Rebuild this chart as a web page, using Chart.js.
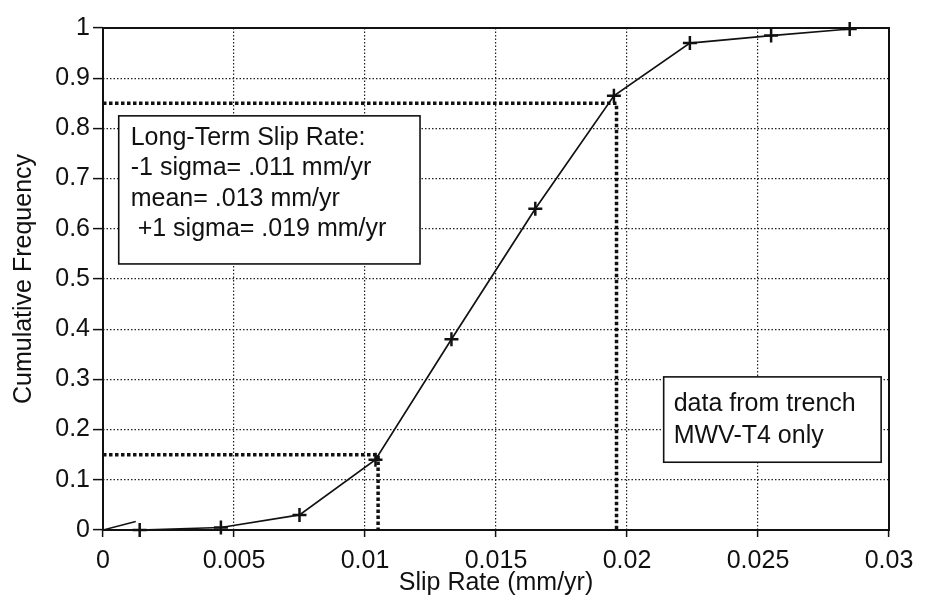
<!DOCTYPE html>
<html>
<head>
<meta charset="utf-8">
<script src="https://cdn.jsdelivr.net/npm/chart.js@4/dist/chart.umd.min.js"></script>
<style>
  html, body { margin: 0; padding: 0; background: #fff; }
  canvas { display: block; }
</style>
</head>
<body>
<canvas id="grafico" width="928" height="600"></canvas>
<script>
// pontos medidos (cruzes) da curva acumulada
const slipRate = [0.0014, 0.0045, 0.0075, 0.0104, 0.0133, 0.0165, 0.0195, 0.0224, 0.0255, 0.0285];
const cumFreq = [0.0, 0.005, 0.03, 0.14, 0.38, 0.64, 0.865, 0.97, 0.985, 0.998];

// a linha comeca um pouco antes da primeira cruz e termina no topo
const curvaInicio = { x: 0.0005, y: 0 };
const curvaFim = { x: 0.0289, y: 1 };

// risco curto saindo da origem
const risco = [{ x: 0, y: 0 }, { x: 0.00125, y: 0.017 }];

// linhas de -1 / +1 sigma
const sigmaBaixo = { freq: 0.15, rate: 0.0105 };
const sigmaAlto = { freq: 0.85, rate: 0.0196 };

const xTicks = [0, 0.005, 0.01, 0.015, 0.02, 0.025, 0.03];
const yTicks = [0, 0.1, 0.2, 0.3, 0.4, 0.5, 0.6, 0.7, 0.8, 0.9, 1];

const notaSlip = ["Long-Term Slip Rate:", "-1 sigma= .011 mm/yr", "mean= .013 mm/yr", " +1 sigma= .019 mm/yr"];
const notaTrench = ["data from trench", "MWV-T4 only"];

const fonte = '"Liberation Sans", Arial, Helvetica, sans-serif';
const preto = "#111";

Chart.defaults.font.family = fonte;
Chart.defaults.font.size = 25;
Chart.defaults.color = preto;

const pontos = slipRate.map((v, i) => ({ x: v, y: cumFreq[i] }));
const curva = [curvaInicio, ...pontos, curvaFim];

function linhaSigma(s) {
  return [{ x: 0, y: s.freq }, { x: s.rate, y: s.freq }, { x: s.rate, y: 0 }];
}

// moldura em volta da area do grafico
const moldura = {
  id: "moldura",
  beforeDatasetsDraw(chart) {
    const { ctx, chartArea: a } = chart;
    ctx.save();
    ctx.strokeStyle = preto;
    ctx.lineWidth = 2;
    ctx.strokeRect(a.left, a.top, a.right - a.left, a.bottom - a.top);
    ctx.restore();
  }
};

function caixa(chart, x0, y0, x1, y1, linhas, margem, topo, passo) {
  const { ctx, scales: { x, y } } = chart;
  const l = x.getPixelForValue(x0), r = x.getPixelForValue(x1);
  const t = y.getPixelForValue(y0), b = y.getPixelForValue(y1);
  ctx.save();
  ctx.fillStyle = "#fff";
  ctx.fillRect(l, t, r - l, b - t);
  ctx.strokeStyle = preto;
  ctx.lineWidth = 1.6;
  ctx.strokeRect(l, t, r - l, b - t);
  ctx.fillStyle = preto;
  ctx.font = "25px " + fonte;
  ctx.textBaseline = "middle";
  linhas.forEach((s, i) => ctx.fillText(s, l + margem, t + topo + i * passo));
  ctx.restore();
}

const notas = {
  id: "notas",
  afterDatasetsDraw(chart) {
    caixa(chart, 0.0006, 0.825, 0.0121, 0.53, notaSlip, 12, 22, 30.5);
    caixa(chart, 0.0214, 0.305, 0.0297, 0.135, notaTrench, 10, 27, 32);
  }
};

const graf = document.getElementById("grafico");

let conf = {
  type: "scatter",
  data: {
    datasets: [
      {
        label: "Cumulative Frequency",
        data: curva,
        showLine: true,
        borderColor: preto,
        borderWidth: 1.7,
        pointStyle: "cross",
        pointRadius: c => (c.dataIndex === 0 || c.dataIndex === curva.length - 1) ? 0 : 7,
        pointBorderColor: preto,
        pointBorderWidth: 2.5,
        clip: false
      },
      {
        data: risco,
        showLine: true,
        borderColor: preto,
        borderWidth: 1.5,
        pointRadius: 0
      },
      {
        data: linhaSigma(sigmaBaixo),
        showLine: true,
        borderColor: preto,
        borderWidth: 3.5,
        borderDash: [3.5, 2.5],
        pointRadius: 0
      },
      {
        data: linhaSigma(sigmaAlto),
        showLine: true,
        borderColor: preto,
        borderWidth: 3.5,
        borderDash: [3.5, 2.5],
        pointRadius: 0
      }
    ]
  },
  options: {
    responsive: false,
    animation: false,
    layout: { padding: { top: 28, right: 39, bottom: 0, left: 0 } },
    plugins: {
      legend: { display: false },
      tooltip: { enabled: false }
    },
    scales: {
      x: {
        type: "linear",
        min: 0,
        max: 0.03,
        afterBuildTicks: s => { s.ticks = xTicks.map(v => ({ value: v })); },
        afterFit: s => { s.height = 70; },
        ticks: { callback: v => String(v), padding: 9, maxRotation: 0, autoSkip: false },
        grid: { color: "#222", lineWidth: 1.2, tickLength: 7, tickColor: preto, tickWidth: 1.5 },
        border: { display: false, dash: [1.5, 2] },
        title: { display: true, text: "Slip Rate (mm/yr)", padding: { top: 0, bottom: 2 } }
      },
      y: {
        type: "linear",
        min: 0,
        max: 1,
        afterBuildTicks: s => { s.ticks = yTicks.map(v => ({ value: v })); },
        afterFit: s => { s.width = 103; },
        ticks: { callback: v => String(v), padding: 3, autoSkip: false },
        grid: { color: "#222", lineWidth: 1.2, tickLength: 10, tickColor: preto, tickWidth: 1.5 },
        border: { display: false, dash: [1.5, 2] },
        title: { display: true, text: "Cumulative Frequency", padding: { top: 9, bottom: 0 } }
      }
    }
  },
  plugins: [moldura, notas]
};

new Chart(graf, conf);
</script>
</body>
</html>
